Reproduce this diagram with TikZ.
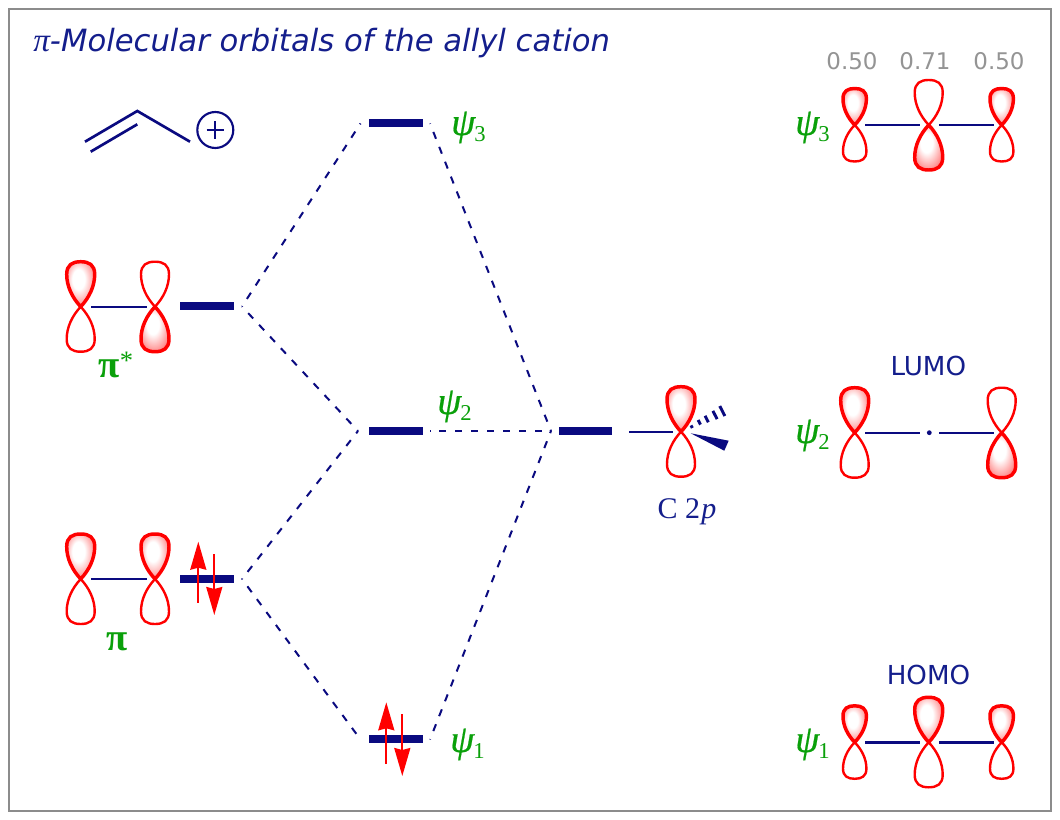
\documentclass[tikz,border=0pt]{standalone}
\usepackage{fontspec}
\setmainfont{Liberation Serif}
\newfontfamily\versans{DejaVu Sans}
\newfontfamily\psifont[FakeBold=0.5]{Liberation Serif Italic}
\usetikzlibrary{arrows.meta}
\definecolor{navy}{RGB}{10,10,128}
\definecolor{ttl}{RGB}{20,30,140}
\definecolor{grn}{RGB}{10,160,10}
\definecolor{redd}{RGB}{255,0,0}
\definecolor{frm}{RGB}{140,140,140}
\pgfdeclareradialshading{lobeshade}{\pgfpoint{-5bp}{7bp}}{color(0bp)=(white);color(11bp)=(white);color(27bp)=(red!42!white);color(38bp)=(red!85!white);color(50bp)=(red)}
\tikzset{
  filledlobe/.style={shading=lobeshade,draw=redd,line width=2.6pt,line join=round},
  openlobe/.style={draw=redd,line width=1.8pt,fill=white,line join=round},
  level/.style={fill=navy,inner sep=0pt,minimum width=40.9pt,minimum height=6pt},
  shortlevel/.style={level,minimum width=39.3pt},
  corr/.style={draw=navy,line width=1.5pt,dash pattern=on 5.5pt off 6.5pt,dash phase=5.2pt},
  sigma/.style={draw=navy,line width=1.8pt},
  spin/.style={draw=redd,line width=1.5pt,-{Stealth[length=21pt,width=12pt,inset=1.5pt]}},
  psi/.style={text=grn,anchor=base west,inner sep=0pt,font=\psifont\fontsize{29}{29}\selectfont},
  psisub/.style={text=grn,anchor=base west,inner sep=0pt,yshift=-5pt,xshift=-1pt,font=\fontsize{17}{17}\selectfont},
  coef/.style={text=black!42,anchor=base,inner sep=0pt,font=\versans\fontsize{17.2}{17.2}\selectfont},
  fmo/.style={text=ttl,anchor=base,inner sep=0pt,font=\versans\fontsize{19.6}{19.6}\selectfont},
  pilab/.style={text=grn,anchor=base west,inner sep=0pt,font=\bfseries\fontsize{29}{29}\selectfont},
}
\newcommand\lobepath[4]{(#1,#2) .. controls ({#1-.6*#3},{#2-.2*#4}) and ({#1-#3},{#2-.45*#4}) .. ({#1-#3},{#2-.72*#4}) .. controls ({#1-#3},{#2-.93*#4}) and ({#1-.6*#3},{#2-#4}) .. (#1,{#2-#4}) .. controls ({#1+.6*#3},{#2-#4}) and ({#1+#3},{#2-.93*#4}) .. ({#1+#3},{#2-.72*#4}) .. controls ({#1+#3},{#2-.45*#4}) and ({#1+.6*#3},{#2-.2*#4}) .. (#1,#2) -- cycle}
\newcommand\orbU[4]{\path[openlobe] \lobepath{#1}{#2}{#3}{-#4};\path[filledlobe] \lobepath{#1}{#2}{#3}{#4};}
\newcommand\orbD[4]{\path[openlobe] \lobepath{#1}{#2}{#3}{#4};\path[filledlobe] \lobepath{#1}{#2}{#3}{-#4};}
\begin{document}
\begin{tikzpicture}[x=0.75pt,y=-0.75pt]
\useasboundingbox (0,0) rectangle (1060,820);
\path[fill=white] (0,0) rectangle (1060,820);
\draw[frm,line width=1.6pt] (8.7,8.7) rectangle (1051,811);

% title
\node[text=ttl,anchor=base west,inner sep=0pt] (title) at (33,52) {\fontsize{25}{25}\selectfont\itshape π\versans\itshape\fontsize{23}{23}\selectfont -Molecular orbitals of the allyl cation};

% allyl cation
\coordinate (c1) at (85,141.7);
\coordinate (c2) at (137.3,111);
\coordinate (c3) at (190,141.7);
\coordinate (c1b) at (90.7,151.7);
\coordinate (c2b) at (137.3,124.3);
\draw[navy,line width=2pt] (c1) -- (c2) -- (c3);
\draw[navy,line width=2pt] (c1b) -- (c2b);
\node[circle,draw=navy,line width=1.6pt,minimum size=27pt,inner sep=0pt] (plus) at (215.3,130) {};
\draw[navy,line width=1.6pt] ([xshift=-6.5pt]plus.center) -- ([xshift=6.5pt]plus.center);
\draw[navy,line width=1.6pt] ([yshift=-6.5pt]plus.center) -- ([yshift=6.5pt]plus.center);

% energy levels
\node[level] (L3) at (396,123.3) {};
\node[level] (L2) at (396,431) {};
\node[level] (L1) at (396,739.3) {};
\node[level] (Lps) at (207,306.3) {};
\node[level] (Lp) at (207,579) {};
\node[shortlevel] (Lc) at (585.5,431) {};

% correlation ends
\coordinate (a3) at (360.5,123.5);
\coordinate (b3) at (430,123.5);
\coordinate (a2) at (358,431);
\coordinate (b2) at (430,431);
\coordinate (a1) at (360.5,739.5);
\coordinate (b1) at (430,739.5);
\coordinate (ps) at (242,306.5);
\coordinate (pp) at (242,579);
\coordinate (cc) at (551,431);
\draw[corr] (ps) -- (a3);
\draw[corr] (ps) -- (a2);
\draw[corr] (pp) -- (a2);
\draw[corr] (pp) -- (a1);
\draw[corr] (b3) -- (cc);
\draw[corr] (b2) -- (cc);
\draw[corr] (b1) -- (cc);

% spins
\coordinate (s1a) at (198.3,602.7);
\coordinate (s1b) at (198.3,541.7);
\coordinate (s2a) at (214.3,554);
\coordinate (s2b) at (214.3,615);
\coordinate (s3a) at (386.3,764);
\coordinate (s3b) at (386.3,702.3);
\coordinate (s4a) at (402.3,714);
\coordinate (s4b) at (402.3,776);
\draw[spin] (s1a) -- (s1b);
\draw[spin] (s2a) -- (s2b);
\draw[spin] (s3a) -- (s3b);
\draw[spin] (s4a) -- (s4b);

% psi labels, centre
\node[psi] (p3) at (451,135) {ψ};
\node[psisub] (p3s) at (p3.base east) {3};
\node[psi] (p2) at (437,414) {ψ};
\node[psisub] (p2s) at (p2.base east) {2};
\node[psi] (p1) at (450,752) {ψ};
\node[psisub] (p1s) at (p1.base east) {1};

% pi orbitals
\coordinate (l1) at (91,306.7);
\coordinate (l2) at (146.7,306.7);
\draw[sigma] (l1) -- (l2);
\orbU{80.7}{306.7}{14}{45}
\orbD{155}{306.7}{14}{45}
\node[pilab] (pistar) at (98,377) {π};
\node[text=grn,anchor=base west,inner sep=0pt,font=\fontsize{20}{20}\selectfont] (star) at (pistar.base east) [yshift=6pt] {*};

\coordinate (l3) at (91,579);
\coordinate (l4) at (146.7,579);
\draw[sigma] (l3) -- (l4);
\orbU{80.7}{579}{14}{45}
\orbU{155}{579}{14}{45}
\node[pilab] (pi) at (106,650) {π};

% C 2p
\coordinate (cl) at (629,431.7);
\coordinate (cr) at (673,431.7);
\draw[sigma] (cl) -- (cr);
\coordinate (w0) at (690.7,433.3);
\coordinate (w1) at (728.7,440.7);
\coordinate (w2) at (724.3,450.7);
\fill[navy] (w0) -- (w1) -- (w2) -- cycle;
\foreach \hx/\hy/\hl in {691.7/426.7/1.5,699.3/422.3/2.6,706.7/419/3.6,715/415/4.6,722.3/411/5.6}
  \draw[navy,line width=2.2pt] ({\hx-.457*\hl},{\hy-.89*\hl}) -- ({\hx+.457*\hl},{\hy+.89*\hl});
\orbU{681}{431.7}{14}{45}
\node[text=ttl,anchor=base,inner sep=0pt,font=\fontsize{22.5}{22.5}\selectfont] (c2p) at (687,518) {C 2\kern1pt\textit{p}};

% right column
\node[coef] (k1) at (852,69.3) {0.50};
\node[coef] (k2) at (925,69.3) {0.71};
\node[coef] (k3) at (999,69.3) {0.50};
\node[psi] (q3) at (795,135) {ψ};
\node[psisub] (q3s) at (q3.base east) {3};
\coordinate (r1) at (865,125);
\coordinate (r2) at (920,125);
\coordinate (r3) at (939,125);
\coordinate (r4) at (994,125);
\draw[sigma] (r1) -- (r2);
\draw[sigma] (r3) -- (r4);
\orbU{854.7}{125}{11.7}{36.5}
\orbD{928.7}{125}{14}{45}
\orbU{1001.7}{125}{11.7}{36.5}

\node[fmo] (lumo) at (928.3,375) {LUMO};
\node[psi] (q2) at (795,443) {ψ};
\node[psisub] (q2s) at (q2.base east) {2};
\coordinate (r5) at (865,432.7);
\coordinate (r6) at (920,432.7);
\coordinate (r7) at (939,432.7);
\coordinate (r8) at (994,432.7);
\draw[sigma] (r5) -- (r6);
\draw[sigma] (r7) -- (r8);
\node[circle,fill=navy,inner sep=0pt,minimum size=3.6pt] (node2) at (929.3,432.7) {};
\orbU{854.7}{432.7}{14}{45}
\orbD{1001.7}{432.7}{14}{45}

\node[fmo] (homo) at (928.5,684) {HOMO};
\node[psi] (q1) at (795,752) {ψ};
\node[psisub] (q1s) at (q1.base east) {1};
\coordinate (r9) at (865,742.3);
\coordinate (r10) at (920,742.3);
\coordinate (r11) at (939,742.3);
\coordinate (r12) at (994,742.3);
\draw[sigma] (r9) -- (r10);
\draw[sigma] (r11) -- (r12);
\orbU{854.7}{742.3}{11.7}{36.5}
\orbU{928.7}{742.3}{14}{45}
\orbU{1001.7}{742.3}{11.7}{36.5}
\end{tikzpicture}
\end{document}
